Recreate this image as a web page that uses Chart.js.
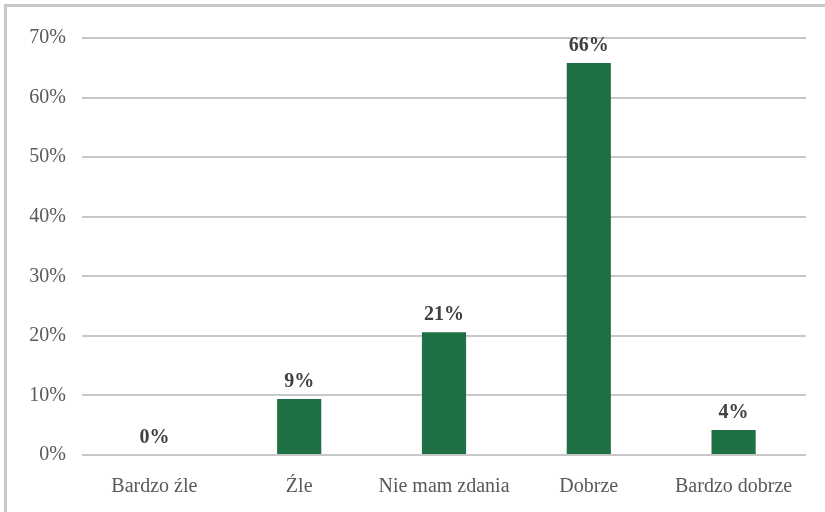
<!DOCTYPE html>
<html>
<head>
<meta charset="utf-8">
<script src="https://cdn.jsdelivr.net/npm/chart.js@4"></script>
<style>
  html, body { margin:0; padding:0; background:#fff; }
  #wrap { position:relative; width:825px; height:512px; }
  #frame { position:absolute; left:4px; top:4px; right:0; bottom:0;
           border-left:3px solid #c8c8cc; border-top:3px solid #c8c8cc; }
  canvas { position:absolute; left:0; top:0; }
</style>
</head>
<body>
<div id="wrap">
  <div id="frame"></div>
  <canvas id="chart" width="825" height="512"></canvas>
</div>
<script>
// chart data
const categories = ['Bardzo źle', 'Źle', 'Nie mam zdania', 'Dobrze', 'Bardzo dobrze'];
const values = [0, 9.4, 20.6, 65.8, 4.2];
const valueLabels = ['0%', '9%', '21%', '66%', '4%'];
const yTicks = [0, 10, 20, 30, 40, 50, 60, 70];

const serif = '"Liberation Serif", "Times New Roman", serif';

// draws the bold % labels above each bar
const barLabels = {
  id: 'barLabels',
  afterDatasetsDraw(c){
    const ctx = c.ctx;
    const meta = c.getDatasetMeta(0);
    ctx.save();
    ctx.font = 'bold 20px ' + serif;
    ctx.fillStyle = '#404040';
    ctx.textAlign = 'center';
    ctx.textBaseline = 'alphabetic';
    meta.data.forEach((bar, i)=>{
      ctx.fillText(valueLabels[i], bar.x, bar.y - 12);
    });
    ctx.restore();
  }
};

const chart = new Chart(document.getElementById('chart'), {
  type: 'bar',
  data: {
    labels: categories,
    datasets: [{
      data: values,
      backgroundColor: '#1e7145',
      barPercentage: 0.305,
      categoryPercentage: 1
    }]
  },
  options: {
    responsive: false,
    animation: false,
    layout: { padding: { left: 0, right: 19, top: 38, bottom: 0 } },
    plugins: { legend: { display: false }, tooltip: { enabled: false } },
    scales: {
      x: {
        grid: { display: false },
        border: { display: false },
        ticks: { color: '#595959', font: { family: serif, size: 20 }, padding: 12, maxRotation: 0 },
        afterFit(s){ s.height = 57; }
      },
      y: {
        min: 0,
        max: 70,
        afterBuildTicks(s){ s.ticks = yTicks.map(v => ({ value: v })); },
        grid: { color: '#c8c8c8', lineWidth: 2, drawTicks: false },
        border: { display: false },
        ticks: {
          color: '#595959',
          font: { family: serif, size: 20 },
          padding: 16,
          callback: v => v + '%'
        },
        afterFit(s){ s.width = 82; }
      }
    }
  },
  plugins: [barLabels]
});
</script>
</body>
</html>
